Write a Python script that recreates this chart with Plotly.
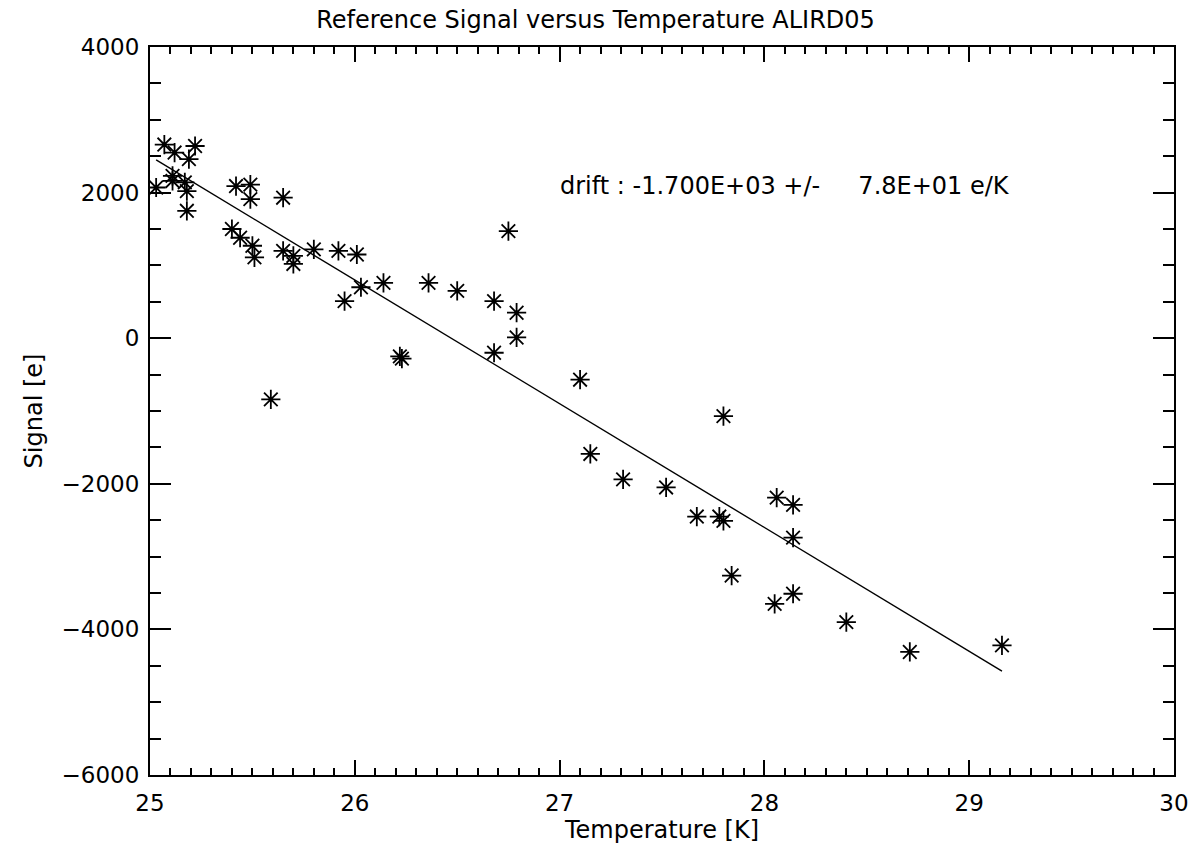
import numpy as np
import plotly.graph_objects as go

# Data
temperature = [25.07, 25.12, 25.22, 25.19, 25.11, 25.03, 25.11, 25.17, 25.18, 25.18,
               25.42, 25.49, 25.49, 25.65, 25.40, 25.44, 25.50, 25.51, 25.65, 25.70,
               25.70, 25.80, 25.92, 26.01, 25.95, 26.03, 26.14, 26.36, 26.50, 26.68,
               26.79, 26.79, 26.68, 26.75, 26.22, 26.23, 25.59, 27.10, 27.80, 27.15,
               27.31, 27.52, 27.67, 27.78, 27.80, 28.06, 28.14, 28.14, 27.84, 28.05,
               28.14, 28.40, 28.71, 29.16]
signal = [2660, 2550, 2640, 2460, 2230, 2070, 2160, 2140, 2020, 1750,
          2090, 2110, 1910, 1930, 1500, 1380, 1270, 1110, 1200, 1130,
          1020, 1220, 1200, 1150, 510, 700, 760, 760, 650, 510,
          350, 10, -200, 1470, -250, -280, -840, -570, -1070, -1590,
          -1940, -2050, -2450, -2450, -2510, -2190, -2290, -2740, -3260, -3650,
          -3510, -3900, -4310, -4220]

fit_slope = -1700.0
fit_intercept = 45000.0
drift_text = "drift\u00a0: -1.700E+03 +/-\u00a0\u00a0\u00a0\u00a0\u00a07.8E+01 e/K"

x_ticks = [25, 26, 27, 28, 29, 30]
y_ticks = [-6000, -4000, -2000, 0, 2000, 4000]

t_arr = np.array(temperature)
line_x = np.array([t_arr.min(), t_arr.max()])
line_y = fit_intercept + fit_slope * line_x

font = "DejaVu Sans"

fig = go.Figure()
fig.add_trace(go.Scatter(
    x=temperature, y=signal, mode="markers",
    marker=dict(symbol="asterisk-open", size=16, color="black",
                line=dict(color="black", width=1.8)),
    showlegend=False, hoverinfo="x+y"))
fig.add_trace(go.Scatter(
    x=line_x, y=line_y, mode="lines",
    line=dict(color="black", width=1.4), showlegend=False))

fig.add_annotation(x=26.99, y=2085, xref="x", yref="y", text=drift_text,
                   showarrow=False, xanchor="left", yanchor="middle",
                   font=dict(family=font, size=24, color="black"))

axis_common = dict(showgrid=False, zeroline=False, showline=True,
                   linecolor="black", linewidth=2, mirror="allticks",
                   ticks="inside", tickcolor="black", tickwidth=1.5,
                   automargin=False,
                   tickfont=dict(family=font, size=23, color="black"))

fig.update_xaxes(range=[25, 30], tickvals=x_ticks, ticklen=15,
                 ticklabelstandoff=6,
                 minor=dict(dtick=0.1, ticks="inside", ticklen=7,
                            tickcolor="black", tickwidth=1.5, showgrid=False),
                 title=dict(text="Temperature [K]", standoff=4,
                            font=dict(family=font, size=24, color="black")),
                 **axis_common)
fig.update_yaxes(range=[-6000, 4000], tickvals=y_ticks, ticklen=21,
                 ticklabelstandoff=4,
                 minor=dict(dtick=500, ticks="inside", ticklen=11,
                            tickcolor="black", tickwidth=1.5, showgrid=False),
                 title=dict(text="Signal [e]", standoff=12,
                            font=dict(family=font, size=24, color="black")),
                 **axis_common)

fig.update_layout(
    width=1191, height=851,
    margin=dict(l=150, r=17, t=47, b=76),
    paper_bgcolor="white", plot_bgcolor="white",
    title=dict(text="Reference Signal versus Temperature ALIRD05",
               x=0.5, xanchor="center", y=0.9765, yanchor="middle",
               font=dict(family=font, size=24, color="black")),
)

fig.write_html(
    "out.html",
    config={"displayModeBar": False},
    post_script="document.body.style.margin='0';document.body.style.overflow='hidden';",
)
